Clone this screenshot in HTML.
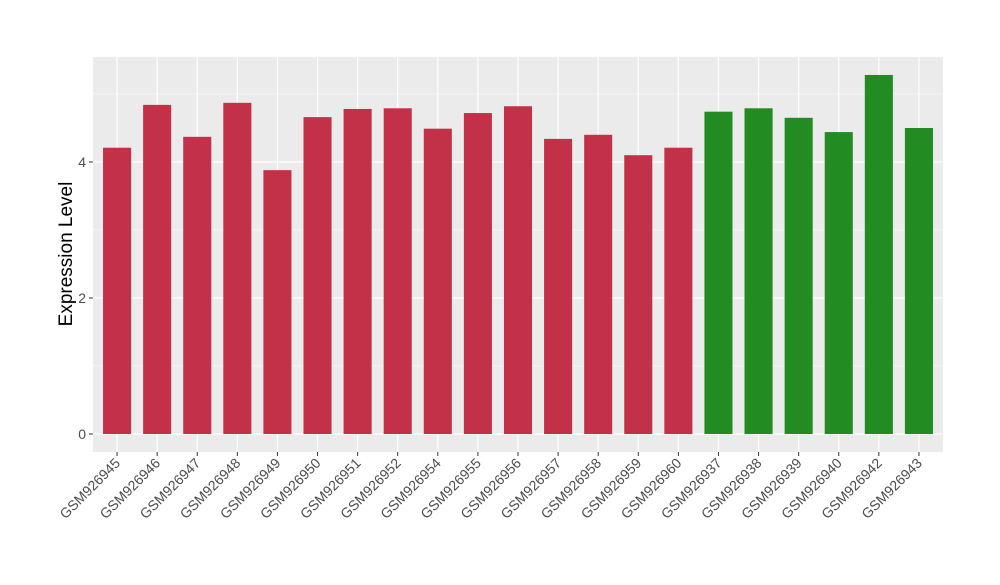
<!DOCTYPE html>
<html><head><meta charset="utf-8"><style>body{margin:0;background:#fff}svg text{font-family:"Liberation Sans",Arial,sans-serif}</style></head>
<body>
<svg id="chart" width="1000" height="580" xmlns="http://www.w3.org/2000/svg">
<rect x="93" y="57" width="850" height="395" fill="#ebebeb"/>
<g id="grid"></g><g id="bars"></g><g id="axes"></g>
<text transform="translate(72,254) rotate(-90)" text-anchor="middle" font-size="19" fill="#000">Expression Level</text>
</svg>
<script>
const categories=["GSM926945","GSM926946","GSM926947","GSM926948","GSM926949","GSM926950","GSM926951","GSM926952","GSM926954","GSM926955","GSM926956","GSM926957","GSM926958","GSM926959","GSM926960","GSM926937","GSM926938","GSM926939","GSM926940","GSM926942","GSM926943"];
const values=[4.21,4.84,4.37,4.87,3.88,4.66,4.78,4.79,4.49,4.72,4.82,4.34,4.40,4.10,4.21,4.74,4.79,4.65,4.44,5.28,4.50];
const groups=["a","a","a","a","a","a","a","a","a","a","a","a","a","a","a","b","b","b","b","b","b"];
const yTicks=[0,2,4];
const yMinor=[1,3,5];
const colors={a:"#c33149",b:"#228b22"};
const NS="http://www.w3.org/2000/svg";
const L=93,R=943,T=57,B=452;
const step=(R-L)/(categories.length-1+1.2);
const x=i=>L+step*(0.6+i);
const y=v=>434-v*68;
function mk(tag,attrs,parent){const e=document.createElementNS(NS,tag);for(const k in attrs)e.setAttribute(k,attrs[k]);parent.appendChild(e);return e;}
const grid=document.getElementById('grid'),bars=document.getElementById('bars'),axes=document.getElementById('axes');
yMinor.forEach(v=>{const l=mk('line',{x1:L,x2:R,y1:y(v),y2:y(v),stroke:'#fff','stroke-width':0.6},grid);});
yTicks.forEach(v=>{const l=mk('line',{x1:L,x2:R,y1:y(v),y2:y(v),stroke:'#fff','stroke-width':1.2},grid);
const t=mk('line',{x1:L-4,x2:L,y1:y(v),y2:y(v),stroke:'#333'},axes);
const tx=mk('text',{x:L-7,y:y(v)+5,'text-anchor':'end','font-size':14,fill:'#4d4d4d'},axes);tx.textContent=v;});
categories.forEach((c,i)=>{const cx=x(i);
const g=mk('line',{x1:cx,x2:cx,y1:T,y2:B,stroke:'#fff','stroke-width':1.2},grid);
const w=step*0.7;const r=mk('rect',{x:cx-w/2,y:y(values[i]),width:w,height:y(0)-y(values[i]),fill:colors[groups[i]]},bars);
const t=mk('line',{x1:cx,x2:cx,y1:B,y2:B+4,stroke:'#333'},axes);
const tx=mk('text',{transform:`translate(${cx+4},${B+12}) rotate(-45)`,'text-anchor':'end','font-size':14,fill:'#4d4d4d'},axes);tx.textContent=c;});
</script>
</body></html>
